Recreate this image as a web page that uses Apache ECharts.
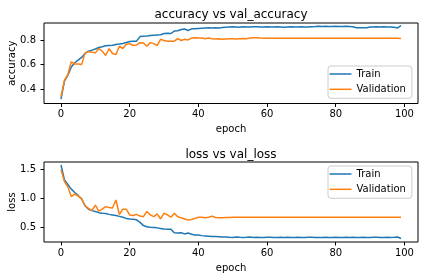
<!DOCTYPE html>
<html><head><meta charset="utf-8">
<script src="https://cdn.jsdelivr.net/npm/echarts@6/dist/echarts.min.js"></script>
<style>html,body{margin:0;padding:0;background:#fff}#c{width:424px;height:280px}</style>
</head><body><div id="c"></div>
<script>
const accTrain = [0.32,0.467,0.515,0.58,0.615,0.636,0.658,0.69,0.709,0.717,
0.727,0.738,0.744,0.752,0.754,0.756,0.763,0.766,0.771,0.779,
0.787,0.79,0.79,0.827,0.83,0.832,0.835,0.838,0.84,0.842,
0.852,0.854,0.852,0.872,0.874,0.884,0.888,0.876,0.89,0.891,
0.893,0.895,0.897,0.898,0.897,0.899,0.897,0.9,0.902,0.904,
0.906,0.905,0.903,0.906,0.904,0.905,0.907,0.906,0.905,0.904,
0.906,0.905,0.904,0.906,0.905,0.903,0.905,0.906,0.904,0.905,
0.906,0.904,0.905,0.907,0.908,0.91,0.909,0.91,0.908,0.909,
0.91,0.909,0.908,0.91,0.909,0.907,0.899,0.898,0.898,0.899,
0.904,0.905,0.906,0.905,0.906,0.904,0.905,0.903,0.897,0.916];
const accVal = [0.34,0.475,0.52,0.623,0.605,0.605,0.6,0.695,0.705,0.7,
0.695,0.73,0.709,0.674,0.73,0.69,0.682,0.749,0.73,0.765,
0.77,0.755,0.758,0.778,0.775,0.749,0.778,0.77,0.755,0.805,
0.795,0.79,0.79,0.79,0.81,0.795,0.805,0.8,0.815,0.817,
0.815,0.815,0.81,0.815,0.81,0.808,0.81,0.806,0.808,0.81,
0.81,0.808,0.81,0.812,0.81,0.815,0.818,0.818,0.815,0.814,
0.814,0.813,0.813,0.813,0.813,0.813,0.813,0.813,0.813,0.813,
0.813,0.813,0.813,0.813,0.813,0.813,0.813,0.813,0.813,0.813,
0.813,0.813,0.813,0.813,0.813,0.813,0.813,0.813,0.813,0.813,
0.813,0.813,0.813,0.813,0.813,0.813,0.813,0.813,0.813,0.812];
const lossTrain = [1.58,1.32,1.24,1.16,1.1,1.05,0.99,0.87,0.81,0.785,
0.77,0.75,0.74,0.735,0.72,0.71,0.7,0.685,0.67,0.65,
0.64,0.635,0.625,0.58,0.525,0.505,0.495,0.49,0.485,0.475,
0.465,0.46,0.46,0.4,0.395,0.4,0.38,0.395,0.375,0.36,
0.36,0.35,0.345,0.34,0.335,0.333,0.33,0.325,0.328,0.322,
0.318,0.325,0.32,0.316,0.32,0.325,0.316,0.32,0.318,0.316,
0.32,0.322,0.318,0.316,0.32,0.318,0.322,0.318,0.316,0.32,
0.318,0.316,0.32,0.322,0.318,0.316,0.318,0.32,0.316,0.318,
0.32,0.318,0.316,0.32,0.318,0.322,0.318,0.316,0.32,0.318,
0.316,0.32,0.322,0.318,0.316,0.32,0.318,0.32,0.325,0.3];
const lossVal = [1.5,1.29,1.2,1.03,1.075,1.04,0.99,0.87,0.826,0.785,
0.88,0.775,0.81,0.855,0.84,0.83,0.97,0.715,0.81,0.81,
0.71,0.7,0.72,0.69,0.68,0.77,0.71,0.68,0.73,0.64,
0.74,0.71,0.67,0.74,0.68,0.66,0.64,0.62,0.63,0.65,
0.67,0.67,0.66,0.67,0.69,0.665,0.66,0.66,0.665,0.665,
0.668,0.668,0.668,0.668,0.668,0.668,0.668,0.668,0.668,0.668,
0.668,0.668,0.668,0.668,0.668,0.668,0.668,0.668,0.668,0.668,
0.668,0.668,0.668,0.668,0.668,0.668,0.668,0.668,0.668,0.668,
0.668,0.668,0.668,0.668,0.668,0.668,0.668,0.668,0.668,0.668,
0.668,0.668,0.668,0.668,0.668,0.668,0.668,0.668,0.668,0.668];
const xTicks = [0,20,40,60,80,100];
const accTicks = [0.4,0.6,0.8];
const lossTicks = [0.5,1.0,1.5];
const seriesNames = ['Train','Validation'];
const titles = ['accuracy vs val_accuracy','loss vs val_loss'];
const yNames = ['accuracy','loss'];

const FONT = 'DejaVu Sans';
const BLUE = '#1f77b4', ORANGE = '#ff7f0e';
const pairs = a => a.map((v,i)=>[i,v]);

function xAx(g){
  return {type:'value',gridIndex:g,min:-4.95,max:103.95,
    name:'epoch',nameLocation:'middle',nameGap:21,nameMoveOverlap:false,
    nameTextStyle:{fontSize:10,fontFamily:FONT,color:'#000'},
    axisLine:{show:false,onZero:false},splitLine:{show:false},
    axisTick:{show:true,inside:false,length:3.5,customValues:xTicks,lineStyle:{color:'#000',width:1}},
    axisLabel:{customValues:xTicks,fontSize:10,fontFamily:FONT,color:'#000',margin:6}};
}
function yAx(g,min,max,ticks,name){
  return {type:'value',gridIndex:g,min:min,max:max,
    name:name,nameLocation:'middle',nameGap:27,nameMoveOverlap:false,
    nameTextStyle:{fontSize:10,fontFamily:FONT,color:'#000'},
    axisLine:{show:false,onZero:false},splitLine:{show:false},
    axisTick:{show:true,inside:false,length:3.5,customValues:ticks,lineStyle:{color:'#000',width:1}},
    axisLabel:{customValues:ticks,fontSize:10,fontFamily:FONT,color:'#000',margin:8,formatter:v=>v.toFixed(1)}};
}
function leg(top){
  return {orient:'vertical',left:328,top:top,
    data:[{name:seriesNames[0],itemStyle:{color:BLUE}},{name:seriesNames[1],itemStyle:{color:ORANGE}}],
    icon:'rect',itemWidth:22,itemHeight:1.5,itemGap:3.3,itemTextGap:8.5,
    padding:[2,6,3,1.5],borderColor:'#cccccc',borderWidth:1,borderRadius:3,
    backgroundColor:'rgba(255,255,255,0.8)',
    textStyle:{fontSize:10,fontFamily:FONT,color:'#000',lineHeight:12}};
}
function ser(name,data,color,g){
  return {name:name,type:'line',data:pairs(data),xAxisIndex:g,yAxisIndex:g,
    symbol:'none',showSymbol:false,lineStyle:{width:1.5,color:color},itemStyle:{color:color},
    z:3};
}
const gridBase = {left:44,width:374,show:true,borderColor:'#000',borderWidth:1,
  backgroundColor:'transparent',containLabel:false,outerBoundsMode:'none'};
const chart = echarts.init(document.getElementById('c'),null,{renderer:'canvas'});
chart.setOption({
  animation:false,backgroundColor:'#fff',
  title:[
    {text:titles[0],left:226,textAlign:'center',top:4,textStyle:{fontSize:12,fontWeight:'normal',fontFamily:FONT,color:'#000'}},
    {text:titles[1],left:226,textAlign:'center',top:144,textStyle:{fontSize:12,fontWeight:'normal',fontFamily:FONT,color:'#000'}}
  ],
  grid:[
    Object.assign({},gridBase,{top:23,height:80.5}),
    Object.assign({},gridBase,{top:162,height:80})
  ],
  xAxis:[xAx(0),xAx(1)],
  yAxis:[yAx(0,0.285,0.937,accTicks,yNames[0]),yAx(1,0.239,1.632,lossTicks,yNames[1])],
  legend:[leg(66),leg(166)],
  series:[
    ser(seriesNames[0],accTrain,BLUE,0),
    ser(seriesNames[1],accVal,ORANGE,0),
    ser(seriesNames[0],lossTrain,BLUE,1),
    ser(seriesNames[1],lossVal,ORANGE,1)
  ]
});
</script></body></html>
